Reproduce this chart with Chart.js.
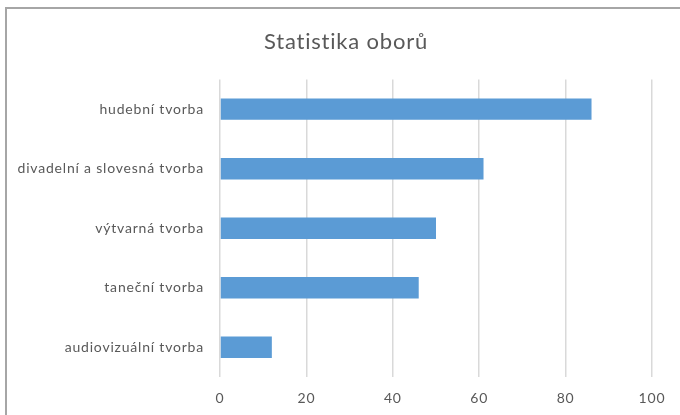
<!DOCTYPE html>
<html>
<head>
<meta charset="utf-8">
<script src="https://cdn.jsdelivr.net/npm/chart.js@4"></script>
<style>
  body { margin: 0; background: #fff; }
  #wrap { position: relative; width: 680px; height: 415px; }
  #frame {
    position: absolute; left: 5px; top: 7px; right: 0; bottom: 0;
    border-left: 2px solid #a6a6a6; border-top: 2px solid #a6a6a6;
    pointer-events: none;
  }
</style>
</head>
<body>
<div id="wrap">
  <canvas id="myChart" width="680" height="415"></canvas>
  <div id="frame"></div>
</div>
<script>
// Data
const categories = ["hudební tvorba", "divadelní a slovesná tvorba", "výtvarná tvorba", "taneční tvorba", "audiovizuální tvorba"];
const values = [86, 61, 50, 46, 12];
const xTicks = [0, 20, 40, 60, 80, 100];

const textColor = "#595959";
const fontFamily = "Lato, 'Open Sans', sans-serif";

// Excel-ish text rendering is a bit wider
const spacing = {
  id: "spacing",
  beforeInit: chart => { chart.ctx.letterSpacing = "0.8px"; },
  beforeDraw: chart => { chart.ctx.letterSpacing = "0.8px"; }
};

const data = {
  labels: categories,
  datasets: [{
    label: "Statistika oborů",
    backgroundColor: "#5b9bd5",
    borderWidth: 0,
    data: values,
    barPercentage: 0.36,
    categoryPercentage: 1
  }]
};

const config = {
  type: "bar",
  data: data,
  plugins: [spacing],
  options: {
    indexAxis: "y",
    responsive: false,
    animation: false,
    layout: { padding: { left: 12, right: 0, top: 0, bottom: 0 } },
    plugins: {
      legend: { display: false },
      tooltip: { enabled: false },
      title: {
        display: true,
        text: "Statistika oborů",
        color: textColor,
        font: { family: fontFamily, size: 22, weight: "normal" },
        padding: { top: 29, bottom: 24 }
      }
    },
    scales: {
      x: {
        min: 0,
        max: 100,
        afterBuildTicks: axis => { axis.ticks = xTicks.map(v => ({ value: v })); },
        afterFit: axis => { axis.height = 38; },
        grid: { color: "#d9d9d9", lineWidth: 1.5, drawTicks: false },
        border: { display: false },
        ticks: { color: textColor, font: { family: fontFamily, size: 14 }, padding: 13 }
      },
      y: {
        afterFit: axis => { axis.width = 208; },
        grid: { display: false, drawTicks: false },
        border: { display: false },
        ticks: { color: textColor, font: { family: fontFamily, size: 14 }, padding: 16 }
      },
      // empty space on the right of the plot
      r: {
        position: "right",
        afterFit: axis => { axis.width = 28; },
        grid: { display: false, drawTicks: false },
        border: { display: false },
        ticks: { display: false }
      }
    }
  }
};

const myChart = new Chart(document.getElementById("myChart"), config);
</script>
</body>
</html>
